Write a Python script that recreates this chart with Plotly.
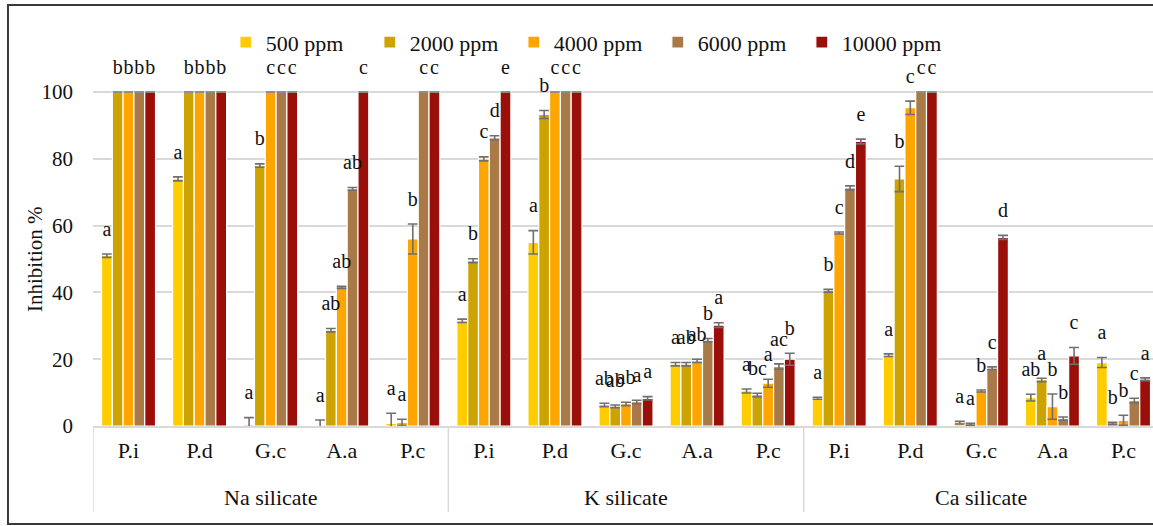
import plotly.graph_objects as go

groups = ["Na silicate", "K silicate", "Ca silicate"]
fungi = ["P.i", "P.d", "G.c", "A.a", "P.c"]
series_names = ["500 ppm", "2000 ppm", "4000 ppm", "6000 ppm", "10000 ppm"]
colors = ["#FFCC00", "#CCA300", "#FFA500", "#A97A48", "#9A0F0A"]

v500 = [51, 74, 0.5, 0.3, 0.8, 31.5, 55, 6.3, 18.5, 10.5, 8.3, 21.2, 1.0, 8.5, 19]
v2000 = [100, 100, 78, 28.7, 1.0, 49.5, 93.3, 5.9, 18.5, 9.3, 40.5, 74, 0.5, 13.8, 0.8]
v4000 = [100, 100, 100, 41.5, 56, 80, 100, 6.6, 19.5, 12.8, 57.8, 95.3, 10.5, 5.8, 1.7]
v6000 = [100, 100, 100, 71, 100, 86.3, 100, 7.2, 25.7, 17.8, 71.3, 100, 17.3, 2.2, 7.6]
v10000 = [100, 100, 100, 100, 100, 100, 100, 8.3, 30.2, 20, 85.2, 100, 56.5, 21, 14]

e500 = [0.5, 0.6, 2, 1.5, 3, 0.5, 3.5, 0.5, 0.5, 0.6, 0.3, 0.4, 0.4, 1, 1.5]
e2000 = [0, 0, 0.5, 0.5, 1, 0.6, 1.2, 0.4, 0.5, 0.5, 0.4, 3.8, 0.3, 0.5, 0.3]
e4000 = [0, 0, 0, 0.3, 4.5, 0.6, 0, 0.5, 0.5, 1.2, 0.3, 2, 0.3, 3.8, 1.5]
e6000 = [0, 0, 0, 0.4, 0, 0.6, 0, 0.5, 0.5, 0.8, 0.6, 0, 0.4, 0.5, 0.7]
e10000 = [0, 0, 0, 0, 0, 0, 0, 0.5, 0.7, 1.8, 0.7, 0, 0.6, 2.5, 0.4]

L500 = ["a", "a", "a", "a", "a", "a", "a", "ab", "a", "a", "a", "a", "a", "ab", "a"]
L2000 = ["b", "b", "b", "ab", "a", "b", "b", "ab", "ab", "bc", "b", "b", "a", "a", "b"]
L4000 = ["b", "b", "c", "ab", "b", "c", "c", "ab", "ab", "a", "c", "c", "b", "b", "b"]
L6000 = ["b", "b", "c", "ab", "c", "d", "c", "a", "b", "ac", "d", "c", "c", "b", "c"]
L10000 = ["b", "b", "c", "c", "c", "e", "c", "a", "a", "b", "e", "c", "d", "c", "a"]

values = [v500, v2000, v4000, v6000, v10000]
errors = [e500, e2000, e4000, e6000, e10000]
letters = [L500, L2000, L4000, L6000, L10000]

n_cat = len(groups) * len(fungi)
xpos = list(range(n_cat))
ticktext = [f for _ in groups for f in fungi]

FONT = "Liberation Serif"
YMAX = 112

fig = go.Figure()
for i, name in enumerate(series_names):
    fig.add_trace(go.Bar(
        x=xpos, y=values[i], name=name, offsetgroup=str(i),
        marker=dict(color=colors[i], line=dict(color="white", width=1.2)),
        error_y=dict(type="data", array=errors[i], visible=True,
                     color="#707070", thickness=1.6, width=5),
    ))
for i, name in enumerate(series_names):
    ytext = [v + e + 7 for v, e in zip(values[i], errors[i])]
    fig.add_trace(go.Scatter(
        x=xpos, y=ytext, mode="text", text=letters[i],
        textposition="middle center", offsetgroup=str(i), showlegend=False,
        textfont=dict(family=FONT, size=20, color="#111111"),
        cliponaxis=False, hoverinfo="skip",
    ))

fig.update_layout(
    width=1153, height=526,
    paper_bgcolor="white", plot_bgcolor="white",
    margin=dict(l=93, r=0, t=52, b=100),
    barmode="group", scattermode="group", bargap=0.24, bargroupgap=0.0,
    font=dict(family=FONT, size=21, color="#111111"),
    legend=dict(orientation="h", x=0.1253, xanchor="left", y=1.026, yanchor="middle",
                font=dict(family=FONT, size=22), entrywidth=99, entrywidthmode="pixels",
                tracegroupgap=0, bgcolor="rgba(0,0,0,0)"),
    showlegend=True,
)
fig.update_yaxes(range=[0, YMAX], tickvals=[0, 20, 40, 60, 80, 100], showgrid=True,
                 gridcolor="#D9D9D9", gridwidth=1.5, zeroline=False, showline=False,
                 ticks="", ticklabelstandoff=19, tickfont=dict(family=FONT, size=21),
                 automargin=False)
fig.update_xaxes(range=[-0.5, -0.5 + 1060 / 71.07], tickvals=xpos, ticktext=ticktext,
                 showline=True, linecolor="#D9D9D9", linewidth=1.5, showgrid=False,
                 zeroline=False, ticks="", ticklabelstandoff=4, automargin=False,
                 tickfont=dict(family=FONT, size=22))

# y-axis title
fig.add_annotation(x=-0.0547, xref="paper", y=50, yref="y", text="Inhibition %",
                   textangle=-90, showarrow=False, xanchor="center", yanchor="middle",
                   font=dict(family=FONT, size=21, color="#111111"))

# group dividers and group labels
for k in range(len(groups) + 1):
    fig.add_shape(type="line", xref="x", yref="paper",
                  x0=k * len(fungi) - 0.5, x1=k * len(fungi) - 0.5, y0=0, y1=-0.23,
                  line=dict(color="#D9D9D9", width=1.5))
for k, g in enumerate(groups):
    fig.add_annotation(x=k * len(fungi) + (len(fungi) - 1) / 2, xref="x",
                       y=-0.19, yref="paper", text=g, showarrow=False,
                       yanchor="middle", font=dict(family=FONT, size=22, color="#111111"))

fig.add_shape(type="rect", xref="paper", yref="paper",
              x0=-0.0802, x1=1.01, y0=-0.262, y1=1.1257,
              line=dict(color="#3A3A3A", width=2), fillcolor="rgba(0,0,0,0)", layer="below")

fig.write_html("out.html", config={"displayModeBar": False},
               post_script="document.body.style.margin='0';")
